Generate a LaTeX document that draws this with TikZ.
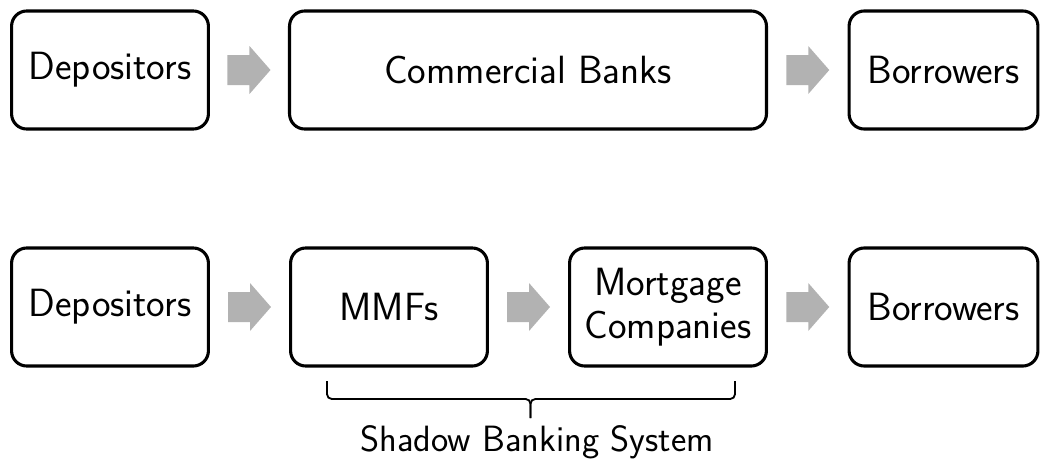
\documentclass[tikz,border=0pt]{standalone}
\usetikzlibrary{calc}
\begin{document}
\begin{tikzpicture}[x=0.025cm,y=-0.025cm,
  box/.style={draw=black,line width=2.2pt,rounded corners=0.38cm,minimum height=2.95cm,inner sep=0pt,align=center,font=\sffamily\fontsize{28}{31}\selectfont},
  lbl/.style={font=\sffamily\fontsize{26}{30}\selectfont},
  brc/.style={line width=1.3pt,rounded corners=0.12cm}]
\useasboundingbox (0,0) rectangle (1044,468);
\newcommand{\blockarr}[2]{%
  \fill[gray!60] ($(#1.east)!0.5!(#2.west)$) ++(-21.5,-15) -- ++(22,0) -- ++(0,-9) -- ++(21,24) -- ++(-21,24) -- ++(0,-9) -- ++(-22,0) -- cycle;}
% top row
\node[box,minimum width=4.92cm] (dep1) at (110,70) {Depositors};
\node[box,minimum width=11.92cm] (cb) at (528,70) {Commercial Banks};
\node[box,minimum width=4.72cm] (bor1) at (943.5,70) {Borrowers};
% bottom row
\node[box,minimum width=4.92cm] (dep2) at (110,307) {Depositors};
\node[box,minimum width=4.92cm] (mmf) at (389,307) {MMFs};
\node[box,minimum width=4.92cm] (mc) at (668,307) {Mortgage\\Companies};
\node[box,minimum width=4.72cm] (bor2) at (943.5,307) {Borrowers};
\blockarr{dep1}{cb}
\blockarr{cb}{bor1}
\blockarr{dep2}{mmf}
\blockarr{mmf}{mc}
\blockarr{mc}{bor2}
% brace
\coordinate (bl) at (327,381);
\coordinate (br) at (735,381);
\coordinate (bm) at (530.5,399);
\coordinate (bt) at (530.5,418);
\draw[brc] (bl) -- (bl |- bm) -- (bm) -- (bt);
\draw[brc] (br) -- (br |- bm) -- (bm) -- (bt);
\node[lbl] (sbs) at (537,442) {Shadow Banking System};
\end{tikzpicture}
\end{document}
